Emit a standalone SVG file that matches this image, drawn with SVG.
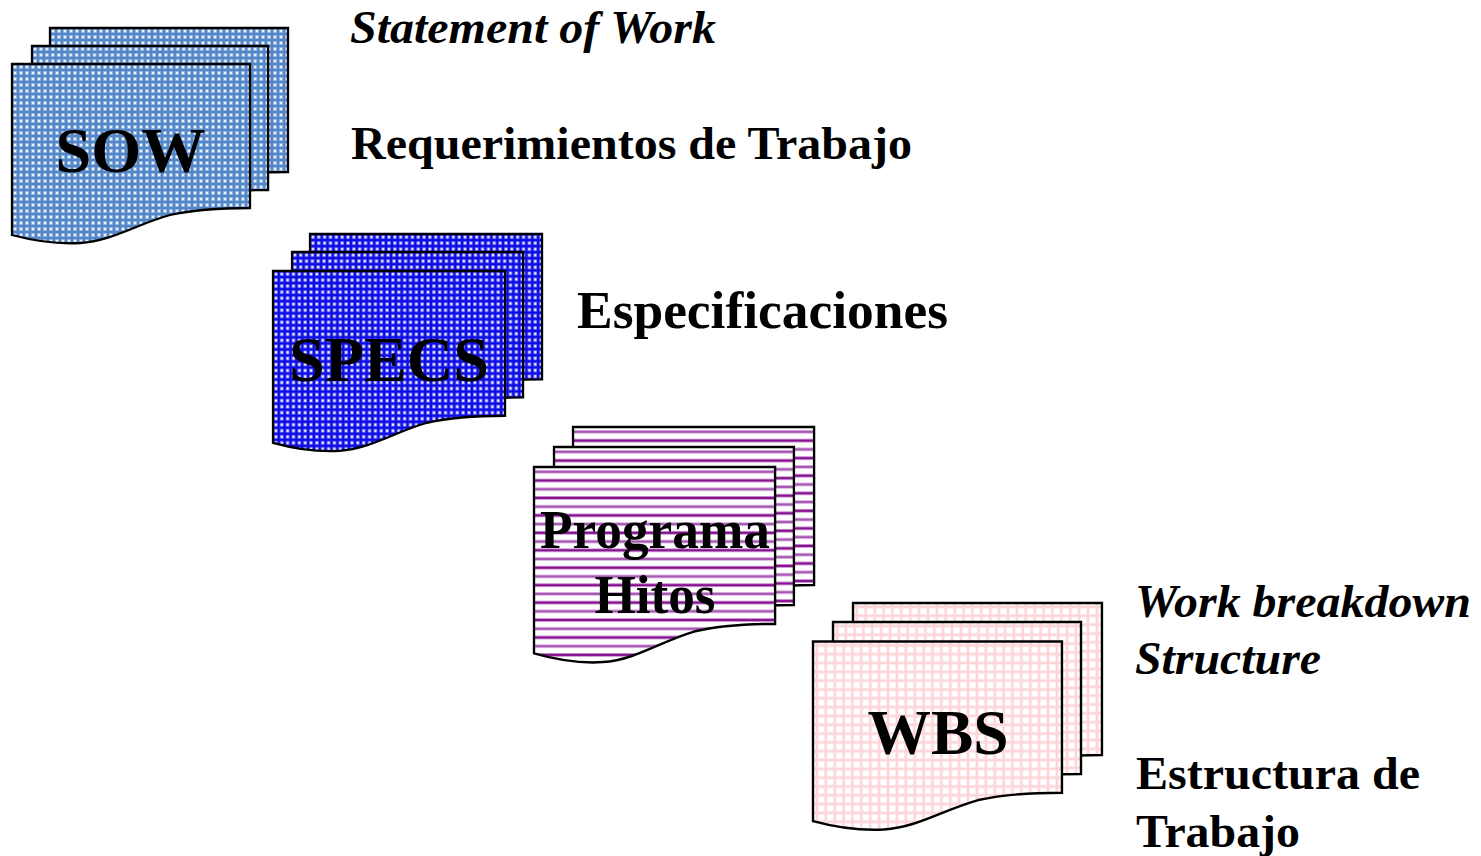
<svg xmlns="http://www.w3.org/2000/svg" width="1481" height="856" viewBox="0 0 1481 856">
<style>
.s{stroke:#000;stroke-width:2.3}
.t{font-family:"Liberation Serif","Times New Roman",serif;font-weight:bold;fill:#000}
.i{font-style:italic}
.l{font-size:46px}
.n{font-size:64px;text-anchor:middle}
.p{font-size:55px;text-anchor:middle}
</style>
<defs>
<pattern id="pSow" width="6" height="6" patternUnits="userSpaceOnUse"><rect width="6" height="6" fill="#5386c6"/><rect x="1" y="1" width="4" height="4" fill="#7ba4d9"/><rect x="1.500" y="1.500" width="3" height="3" fill="#b4cdec"/><rect x="2" y="2" width="2" height="2" fill="#eef4fc"/></pattern>
<pattern id="pSpec" width="6" height="6" patternUnits="userSpaceOnUse"><rect width="6" height="6" fill="#0c0ce6"/><rect x="1" y="1" width="4" height="4" fill="#4040ee"/><rect x="1.500" y="1.500" width="3" height="3" fill="#9a9af6"/><rect x="2" y="2" width="2" height="2" fill="#f4f4ff"/></pattern>
<pattern id="pProg" width="10" height="16" patternUnits="userSpaceOnUse"><rect width="10" height="16" fill="#fff"/><rect y="2.800" width="10" height="3.200" fill="#d9b5df"/><rect y="3.400" width="10" height="2" fill="#a657b2"/><rect y="10.800" width="10" height="3.200" fill="#c48ccd"/><rect y="11.400" width="10" height="2" fill="#86108f"/></pattern>
<pattern id="pWbs" width="8.500" height="8.400" patternUnits="userSpaceOnUse"><rect width="8.500" height="8.400" fill="#fff"/><rect x="2.400" width="2.600" height="8.400" fill="#fdd6d9"/><rect y="2.400" width="8.500" height="2.600" fill="#fdd6d9"/></pattern>
<path id="doc" d="M0 171C26 178 50 180 68 179C100 177 125 160 158 151C185 145 210 144 238 144V0H0Z"/>
</defs>
<g id="connectors"></g>
<g id="sow">
<use href="#doc" x="50" y="28" fill="url(#pSow)" class="s"/>
<use href="#doc" transform="translate(32 46) scale(.992 1)" fill="url(#pSow)" class="s"/>
<use href="#doc" x="12" y="64" fill="url(#pSow)" class="s"/>
<text class="t n" x="130.500" y="172" textLength="150" lengthAdjust="spacingAndGlyphs">SOW</text>
</g>
<g id="specs">
<use href="#doc" transform="translate(310 234) scale(.975 1.01)" fill="url(#pSpec)" class="s"/>
<use href="#doc" transform="translate(292 252) scale(.971 1.01)" fill="url(#pSpec)" class="s"/>
<use href="#doc" transform="translate(273 271) scale(.975 1.005)" fill="url(#pSpec)" class="s"/>
<text class="t n" x="389" y="381" textLength="200" lengthAdjust="spacingAndGlyphs">SPECS</text>
</g>
<g id="programa">
<use href="#doc" transform="translate(573 427) scale(1.013 1.097)" fill="url(#pProg)" class="s"/>
<use href="#doc" transform="translate(554 447) scale(1.008 1.097)" fill="url(#pProg)" class="s"/>
<use href="#doc" transform="translate(534 467) scale(1.013 1.09)" fill="url(#pProg)" class="s"/>
<text class="t p" x="655" y="548" textLength="230" lengthAdjust="spacingAndGlyphs">Programa</text>
<text class="t p" x="655" y="613" textLength="121" lengthAdjust="spacingAndGlyphs">Hitos</text>
</g>
<g id="wbs">
<use href="#doc" transform="translate(853 603) scale(1.046 1.056)" fill="url(#pWbs)" class="s"/>
<use href="#doc" transform="translate(833 622) scale(1.042 1.056)" fill="url(#pWbs)" class="s"/>
<use href="#doc" transform="translate(813 641.500) scale(1.046 1.05)" fill="url(#pWbs)" class="s"/>
<text class="t n" x="938" y="754" textLength="141" lengthAdjust="spacingAndGlyphs">WBS</text>
</g>
<g id="labels">
<text class="t i l" x="350" y="43" textLength="366" lengthAdjust="spacingAndGlyphs">Statement of Work</text>
<text class="t l" x="351" y="159" textLength="561" lengthAdjust="spacingAndGlyphs">Requerimientos de Trabajo</text>
<text class="t" style="font-size:52px" x="577" y="328" textLength="371" lengthAdjust="spacingAndGlyphs">Especificaciones</text>
<text class="t i l" x="1135" y="617" textLength="336" lengthAdjust="spacingAndGlyphs">Work breakdown</text>
<text class="t i l" x="1135" y="674" textLength="186" lengthAdjust="spacingAndGlyphs">Structure</text>
<text class="t l" x="1136" y="789" textLength="284" lengthAdjust="spacingAndGlyphs">Estructura de</text>
<text class="t l" x="1136" y="847" textLength="164" lengthAdjust="spacingAndGlyphs">Trabajo</text>
</g>
</svg>
